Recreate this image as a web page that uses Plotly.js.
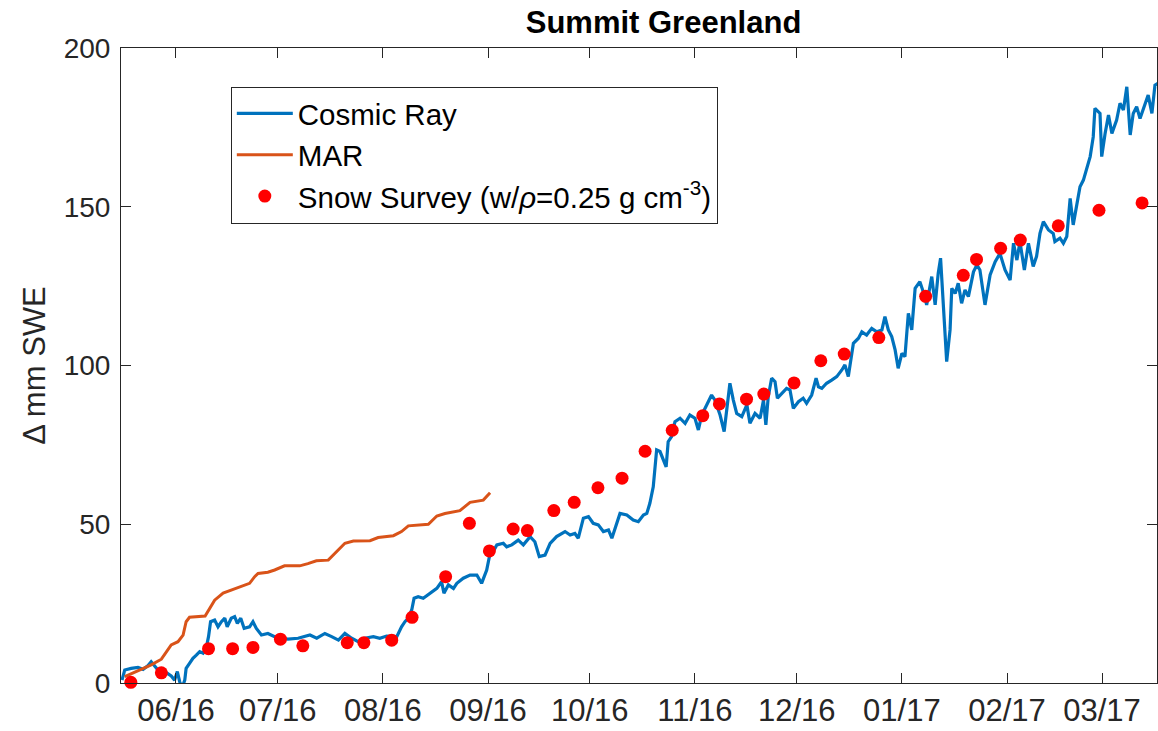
<!DOCTYPE html>
<html>
<head>
<meta charset="utf-8">
<script src="https://cdn.plot.ly/plotly-3.0.1.min.js"></script>
<style>
  html, body { margin: 0; padding: 0; background: #fff; }
  #chart { width: 1158px; height: 731px; }
</style>
</head>
<body>
<div id="chart"></div>
<script>
// All x values are days since this base date (2016-06-01)
const baseDate = '2016-06-01';

// Cosmic Ray (neutron) SWE change, mm
const cosmicDays = [-15.9,-15.1,-13.2,-11.2,-9.7,-8.3,-7.3,-6.3,-5.3,-3.3,-1.4,-0.4,0.4,1.1,1.8,2.6,3.0,4.0,5.0,6.0,7.0,8.0,8.9,9.6,10.2,11.4,12.4,13.4,14.4,15.1,16.3,17.3,18.1,19.1,20.1,21.7,22.7,23.7,25.2,27.1,29.1,31.0,33.0,36.0,38.4,39.5,41.5,43.9,45.9,47.9,49.8,51.8,53.7,55.7,58.2,60.1,62.1,65.1,66.5,67.5,68.5,69.5,70.2,71.4,72.9,74.9,76.9,78.3,79.0,80.3,81.8,82.8,84.7,86.7,88.7,90.1,91.6,92.4,93.5,94.6,96.5,97.5,99.0,100.9,102.4,104.4,105.8,107.1,108.8,110.3,112.2,114.7,116.2,117.6,118.6,120.1,121.6,123.0,124.5,126.0,127.5,128.5,129.9,130.9,132.9,134.8,136.3,137.8,138.8,139.7,140.7,141.2,141.7,142.7,143.7,144.5,145.1,146.1,147.1,148.6,150.1,151.5,153.0,154.0,155.0,156.5,157.9,158.9,160.4,161.6,162.4,163.3,164.3,165.3,166.8,168.3,169.2,170.7,172.2,173.2,173.9,174.6,175.6,176.6,177.3,178.6,180.0,181.0,182.0,183.5,184.9,185.9,187.4,188.7,189.4,190.4,191.8,193.3,194.8,196.3,197.2,198.2,199.7,201.2,202.2,203.6,205.1,206.6,208.1,209.0,210.0,211.0,212.0,212.9,214.0,214.9,215.9,216.9,217.9,219.3,220.3,221.3,222.8,223.8,224.7,225.4,226.2,227.2,228.2,228.7,229.7,230.6,231.6,232.6,233.6,235.1,236.1,237.0,238.5,240.0,241.5,242.9,244.4,245.9,246.9,247.9,248.8,250.1,251.3,252.7,253.7,254.7,255.7,257.2,258.6,259.1,260.6,261.6,262.6,263.6,264.5,265.5,266.5,267.5,268.5,269.5,270.4,270.9,272.4,272.9,273.9,274.9,275.9,277.3,278.3,279.3,280.3,281.3,282.2,283.2,284.2,285.7,286.6,287.7,288.6,289.5];
const cosmicSWE = [0.9,4.1,4.6,4.9,4.3,5.4,6.7,5.4,4.1,3.6,2.2,0.9,3.6,0.4,-1.5,0.9,4.6,6.2,7.8,8.8,9.9,9.4,10.9,14.6,19.3,19.8,17.7,19.3,20.4,17.7,20.4,20.9,18.8,20.4,17.2,17.7,19.3,17.2,15.1,15.6,14.6,14.1,13.8,14.1,14.8,15.1,14.1,15.6,14.6,13.5,15.6,14.1,13.0,14.1,14.6,14.1,14.8,14.6,17.7,19.3,20.4,23.0,26.7,27.2,26.7,28.3,29.8,31.9,28.3,30.9,29.8,31.4,33.0,34.0,34.0,31.4,35.6,39.8,41.4,43.5,44.0,42.9,43.5,45.0,43.5,46.1,44.5,39.8,40.3,44.0,46.1,47.7,46.6,47.1,45.6,51.9,52.4,50.3,49.8,47.7,48.2,45.6,50.3,53.4,52.9,51.3,50.8,52.9,53.4,56.6,61.8,67.1,73.4,72.9,70.2,68.1,76.0,77.6,82.3,83.4,81.8,84.4,83.4,79.7,84.4,87.6,90.7,89.1,84.4,79.2,86.0,94.4,89.1,84.9,83.9,87.6,81.8,84.9,83.4,89.1,81.3,90.2,96.0,94.9,89.7,91.2,92.8,92.3,86.5,88.6,89.7,88.1,90.7,96.0,93.3,92.8,94.4,95.4,96.5,98.6,100.2,96.5,107.0,108.6,110.6,109.6,111.7,110.6,111.2,115.4,111.2,109.1,104.9,99.1,103.8,102.8,116.4,111.2,124.3,126.4,123.2,119.1,128.0,119.1,129.0,133.8,120.6,101.2,111.2,124.3,122.7,125.9,119.6,123.8,121.7,129.5,131.7,130.1,119.1,128.5,132.7,135.3,130.1,126.9,138.5,133.2,139.0,130.1,138.5,131.2,134.4,141.6,145.3,142.7,141.6,139.0,140.1,138.5,140.6,152.6,144.3,150.0,156.3,158.4,162.6,165.8,172.0,181.0,179.4,165.8,173.1,178.9,173.1,177.3,182.6,180.5,187.8,172.6,179.4,181.5,177.8,182.6,185.2,179.4,188.3,188.9];

// MAR regional climate model accumulation, mm SWE
const marDays = [-15.1,-11.2,-7.3,-4.3,-2.4,-1.4,0.6,2.1,3.0,4.0,8.6,9.6,11.4,13.9,16.3,18.3,21.7,23.2,24.2,27.1,29.1,32.0,36.5,38.9,41.4,44.9,47.4,49.8,52.3,57.2,59.6,64.1,66.5,68.5,74.4,76.9,79.3,83.7,86.7,90.6,92.6];
const marSWE  = [2.0,3.8,5.7,7.5,10.4,12.0,13.0,15.1,19.3,20.7,21.1,23.0,26.1,28.3,29.3,30.0,31.4,33.5,34.5,34.9,35.6,36.9,36.9,37.6,38.5,38.7,41.4,44.0,44.7,44.8,45.8,46.4,47.7,49.5,50.0,52.6,53.4,54.3,56.9,57.6,59.9];

// Snow survey (density 0.25 g cm^-3), mm SWE
const surveyDays = [-13.3,-4.3,9.6,16.7,22.7,30.8,37.4,50.5,55.4,63.6,69.6,79.5,86.5,92.4,99.4,103.6,111.4,117.4,124.4,131.5,138.3,146.3,155.3,160.2,168.2,173.3,182.2,190.1,197.0,207.2,221.0,232.1,236.0,243.1,248.9,260.1,272.1,284.8];
const surveySWE  = [0.2,3.2,10.8,10.8,11.2,13.8,11.7,12.7,12.7,13.5,20.7,33.5,50.3,41.6,48.5,48.0,54.3,56.9,61.5,64.5,73.0,79.6,84.2,87.9,89.4,91.0,94.5,101.5,103.6,108.8,121.8,128.4,133.4,136.9,139.5,144.0,148.9,151.2];

const seriesNames = ['Cosmic Ray', 'MAR', 'Snow Survey (w/<i>ρ</i>=0.25 g cm<sup>-3</sup>)'];
const chartTitle = 'Summit Greenland';
const yTitle = 'Δ mm SWE';
const xRangeDays = [-16.2, 289.2];

function toDate(d) {
  const b = Date.parse(baseDate + 'T00:00:00Z');
  const t = new Date(b + d * 86400000);
  return t.toISOString().slice(0, 19).replace('T', ' ');
}

const fontFam = '"Liberation Sans", Arial, Helvetica, sans-serif';
const axisCol = '#262626';

const traces = [
  {
    x: cosmicDays.map(toDate), y: cosmicSWE, name: seriesNames[0],
    type: 'scatter', mode: 'lines',
    line: { color: '#0072BD', width: 3.2 }
  },
  {
    x: marDays.map(toDate), y: marSWE, name: seriesNames[1],
    type: 'scatter', mode: 'lines',
    line: { color: '#D95319', width: 3 }
  },
  {
    x: surveyDays.map(toDate), y: surveySWE, name: seriesNames[2],
    type: 'scatter', mode: 'markers',
    marker: { color: '#FF0000', size: 13 },
    cliponaxis: false
  }
];

const layout = {
  width: 1158, height: 731,
  margin: { l: 121, r: 1, t: 48, b: 48 },
  paper_bgcolor: '#ffffff', plot_bgcolor: '#ffffff',
  font: { family: fontFam, color: axisCol, size: 30 },
  title: {
    text: '<b>' + chartTitle + '</b>',
    font: { family: fontFam, size: 31, color: '#000000' },
    xref: 'container', x: 0.573, xanchor: 'center',
    yref: 'container', y: 0.97, yanchor: 'middle'
  },
  xaxis: {
    type: 'date',
    range: xRangeDays.map(toDate),
    tick0: baseDate, dtick: 'M1', tickformat: '%m/%y',
    ticks: 'inside', ticklen: 10, tickwidth: 1, tickcolor: axisCol,
    showline: true, linecolor: axisCol, linewidth: 1, mirror: 'ticks',
    showgrid: false, zeroline: false,
    tickfont: { family: fontFam, size: 31, color: axisCol },
    ticklabelstandoff: 0
  },
  yaxis: {
    range: [0, 200], tick0: 0, dtick: 50,
    ticks: 'inside', ticklen: 10, tickwidth: 1, tickcolor: axisCol,
    showline: true, linecolor: axisCol, linewidth: 1, mirror: 'ticks',
    showgrid: false, zeroline: false,
    tickfont: { family: fontFam, size: 28, color: axisCol },
    ticklabelstandoff: 4,
    title: { text: yTitle, font: { family: fontFam, size: 31, color: axisCol }, standoff: 8 }
  },
  showlegend: true,
  legend: {
    x: 0.106, y: 0.939, xanchor: 'left', yanchor: 'top',
    bgcolor: '#ffffff', bordercolor: axisCol, borderwidth: 1,
    font: { family: fontFam, size: 29.5, color: '#000000' },
    itemwidth: 56
  }
};

Plotly.newPlot('chart', traces, layout, { staticPlot: true, displayModeBar: false });
</script>
</body>
</html>
